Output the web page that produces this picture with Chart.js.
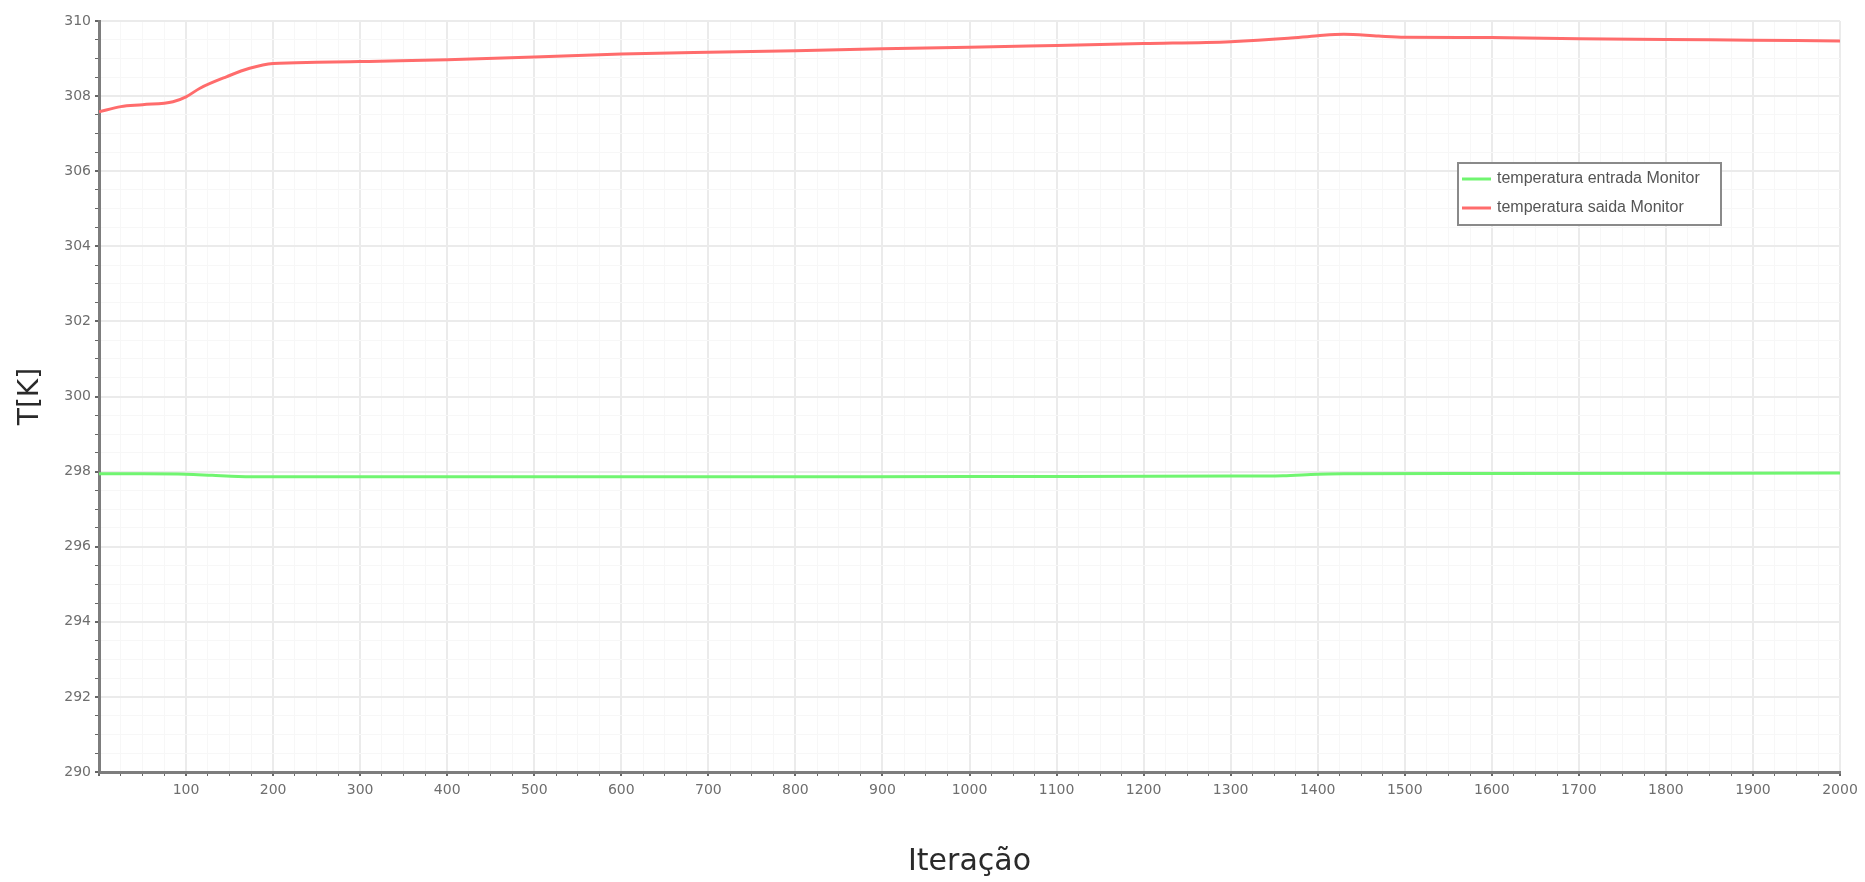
<!DOCTYPE html>
<html>
<head>
<meta charset="utf-8">
<script src="https://cdn.jsdelivr.net/npm/chart.js@4.4.1/dist/chart.umd.min.js"></script>
<style>
  html, body { margin: 0; padding: 0; background: #ffffff; }
  #wrap { width: 1865px; height: 882px; }
</style>
</head>
<body>
<div id="wrap"><canvas id="c" width="1865" height="882"></canvas></div>
<script>
// ---- data ----
const outletLabel = 'temperatura saida Monitor';
const outletIter = [0, 25, 50, 85, 100, 116, 147, 173, 200, 250, 300, 346, 400, 500, 600, 700, 800, 900, 1000, 1100, 1200, 1300, 1366, 1400, 1430, 1470, 1500, 1600, 1700, 1800, 1900, 2000];
const outletTemp = [307.58, 307.72, 307.77, 307.85, 307.98, 308.21, 308.52, 308.74, 308.87, 308.90, 308.92, 308.94, 308.97, 309.04, 309.12, 309.17, 309.21, 309.26, 309.30, 309.35, 309.40, 309.45, 309.54, 309.61, 309.65, 309.60, 309.57, 309.56, 309.53, 309.51, 309.49, 309.47];

const inletLabel = 'temperatura entrada Monitor';
const inletIter = [0, 50, 100, 130, 160, 200, 400, 700, 1000, 1300, 1360, 1400, 1430, 1600, 2000];
const inletTemp = [297.94, 297.94, 297.93, 297.90, 297.87, 297.86, 297.86, 297.86, 297.87, 297.88, 297.89, 297.93, 297.94, 297.95, 297.96];

const xTitle = 'Iteração';
const yTitle = 'T[K]';
const xMin = 0, xMax = 2000, xMinorStep = 25, xMajorStep = 100;
const yMin = 290, yMax = 310, yMinorStep = 0.5, yMajorStep = 2;

// ---- helpers ----
function toPoints(xs, ys) { return xs.map((x, i) => ({ x: x, y: ys[i] })); }
function isMult(v, step) { return Math.abs(v / step - Math.round(v / step)) < 1e-6; }

const GREEN = 'rgb(112,245,112)';
const RED = 'rgb(255,108,108)';

const insideLegend = {
  id: 'insideLegend',
  afterDraw(chart) {
    const ctx = chart.ctx;
    const x0 = 1458, y0 = 163, w = 263, h = 62;
    ctx.save();
    ctx.fillStyle = '#ffffff';
    ctx.fillRect(x0, y0, w, h);
    ctx.strokeStyle = '#8a8a8a';
    ctx.lineWidth = 2;
    ctx.strokeRect(x0, y0, w, h);
    const rows = [16, 45];
    ctx.font = '16px "Liberation Sans", Arial, sans-serif';
    ctx.textBaseline = 'middle';
    ctx.textAlign = 'left';
    chart.data.datasets.forEach((ds, i) => {
      const yy = y0 + rows[i];
      ctx.strokeStyle = ds.borderColor;
      ctx.lineWidth = 3;
      ctx.beginPath();
      ctx.moveTo(x0 + 4, yy);
      ctx.lineTo(x0 + 33, yy);
      ctx.stroke();
      ctx.fillStyle = '#555555';
      ctx.fillText(ds.label, x0 + 39, yy);
    });
    ctx.restore();
  }
};

new Chart(document.getElementById('c'), {
  type: 'line',
  data: {
    datasets: [
      { label: inletLabel, data: toPoints(inletIter, inletTemp), borderColor: GREEN, backgroundColor: GREEN,
        borderWidth: 3, pointRadius: 0, cubicInterpolationMode: 'monotone', fill: false },
      { label: outletLabel, data: toPoints(outletIter, outletTemp), borderColor: RED, backgroundColor: RED,
        borderWidth: 3, pointRadius: 0, cubicInterpolationMode: 'monotone', fill: false }
    ]
  },
  options: {
    responsive: false,
    animation: false,
    events: [],
    layout: { padding: { left: 10, right: 25, top: 21, bottom: 2 } },
    plugins: { legend: { display: false }, tooltip: { enabled: false } },
    scales: {
      x: {
        type: 'linear', min: xMin, max: xMax,
        afterFit(scale) { scale.height = 108; },
        ticks: {
          stepSize: xMinorStep, autoSkip: false, maxRotation: 0, minRotation: 0,
          color: '#6e6e6e', padding: 6,
          font: { family: '"DejaVu Sans", Verdana, sans-serif', size: 14 },
          callback: (v) => (isMult(v, xMajorStep) && v !== 0) ? String(v) : ''
        },
        grid: {
          color: (c) => isMult(c.tick.value, xMajorStep) ? '#ebebeb' : '#f7f7f7',
          lineWidth: (c) => isMult(c.tick.value, xMajorStep) ? 2 : 1,
          tickColor: '#666666', tickLength: 4, drawTicks: true
        },
        border: { color: '#7d7d7d', width: 3 },
        title: {
          display: true, text: xTitle, color: '#2a2a2a', padding: 0,
          font: { family: '"DejaVu Sans", Verdana, sans-serif', size: 30, weight: 'normal' }
        }
      },
      y: {
        type: 'linear', min: yMin, max: yMax,
        afterFit(scale) { scale.width = 89; },
        ticks: {
          stepSize: yMinorStep, autoSkip: false,
          color: '#6e6e6e', padding: 4,
          font: { family: '"DejaVu Sans", Verdana, sans-serif', size: 14 },
          callback: (v) => isMult(v, yMajorStep) ? String(v) : ''
        },
        grid: {
          color: (c) => isMult(c.tick.value, yMajorStep) ? '#ebebeb' : '#f7f7f7',
          lineWidth: (c) => isMult(c.tick.value, yMajorStep) ? 2 : 1,
          tickColor: '#666666', tickLength: 4, drawTicks: true
        },
        border: { color: '#7d7d7d', width: 3 },
        title: {
          display: true, text: yTitle, color: '#2a2a2a', padding: { top: 4, bottom: 0 },
          font: { family: '"DejaVu Sans", Verdana, sans-serif', size: 28, weight: 'normal' }
        }
      }
    }
  },
  plugins: [insideLegend]
});
</script>
</body>
</html>
